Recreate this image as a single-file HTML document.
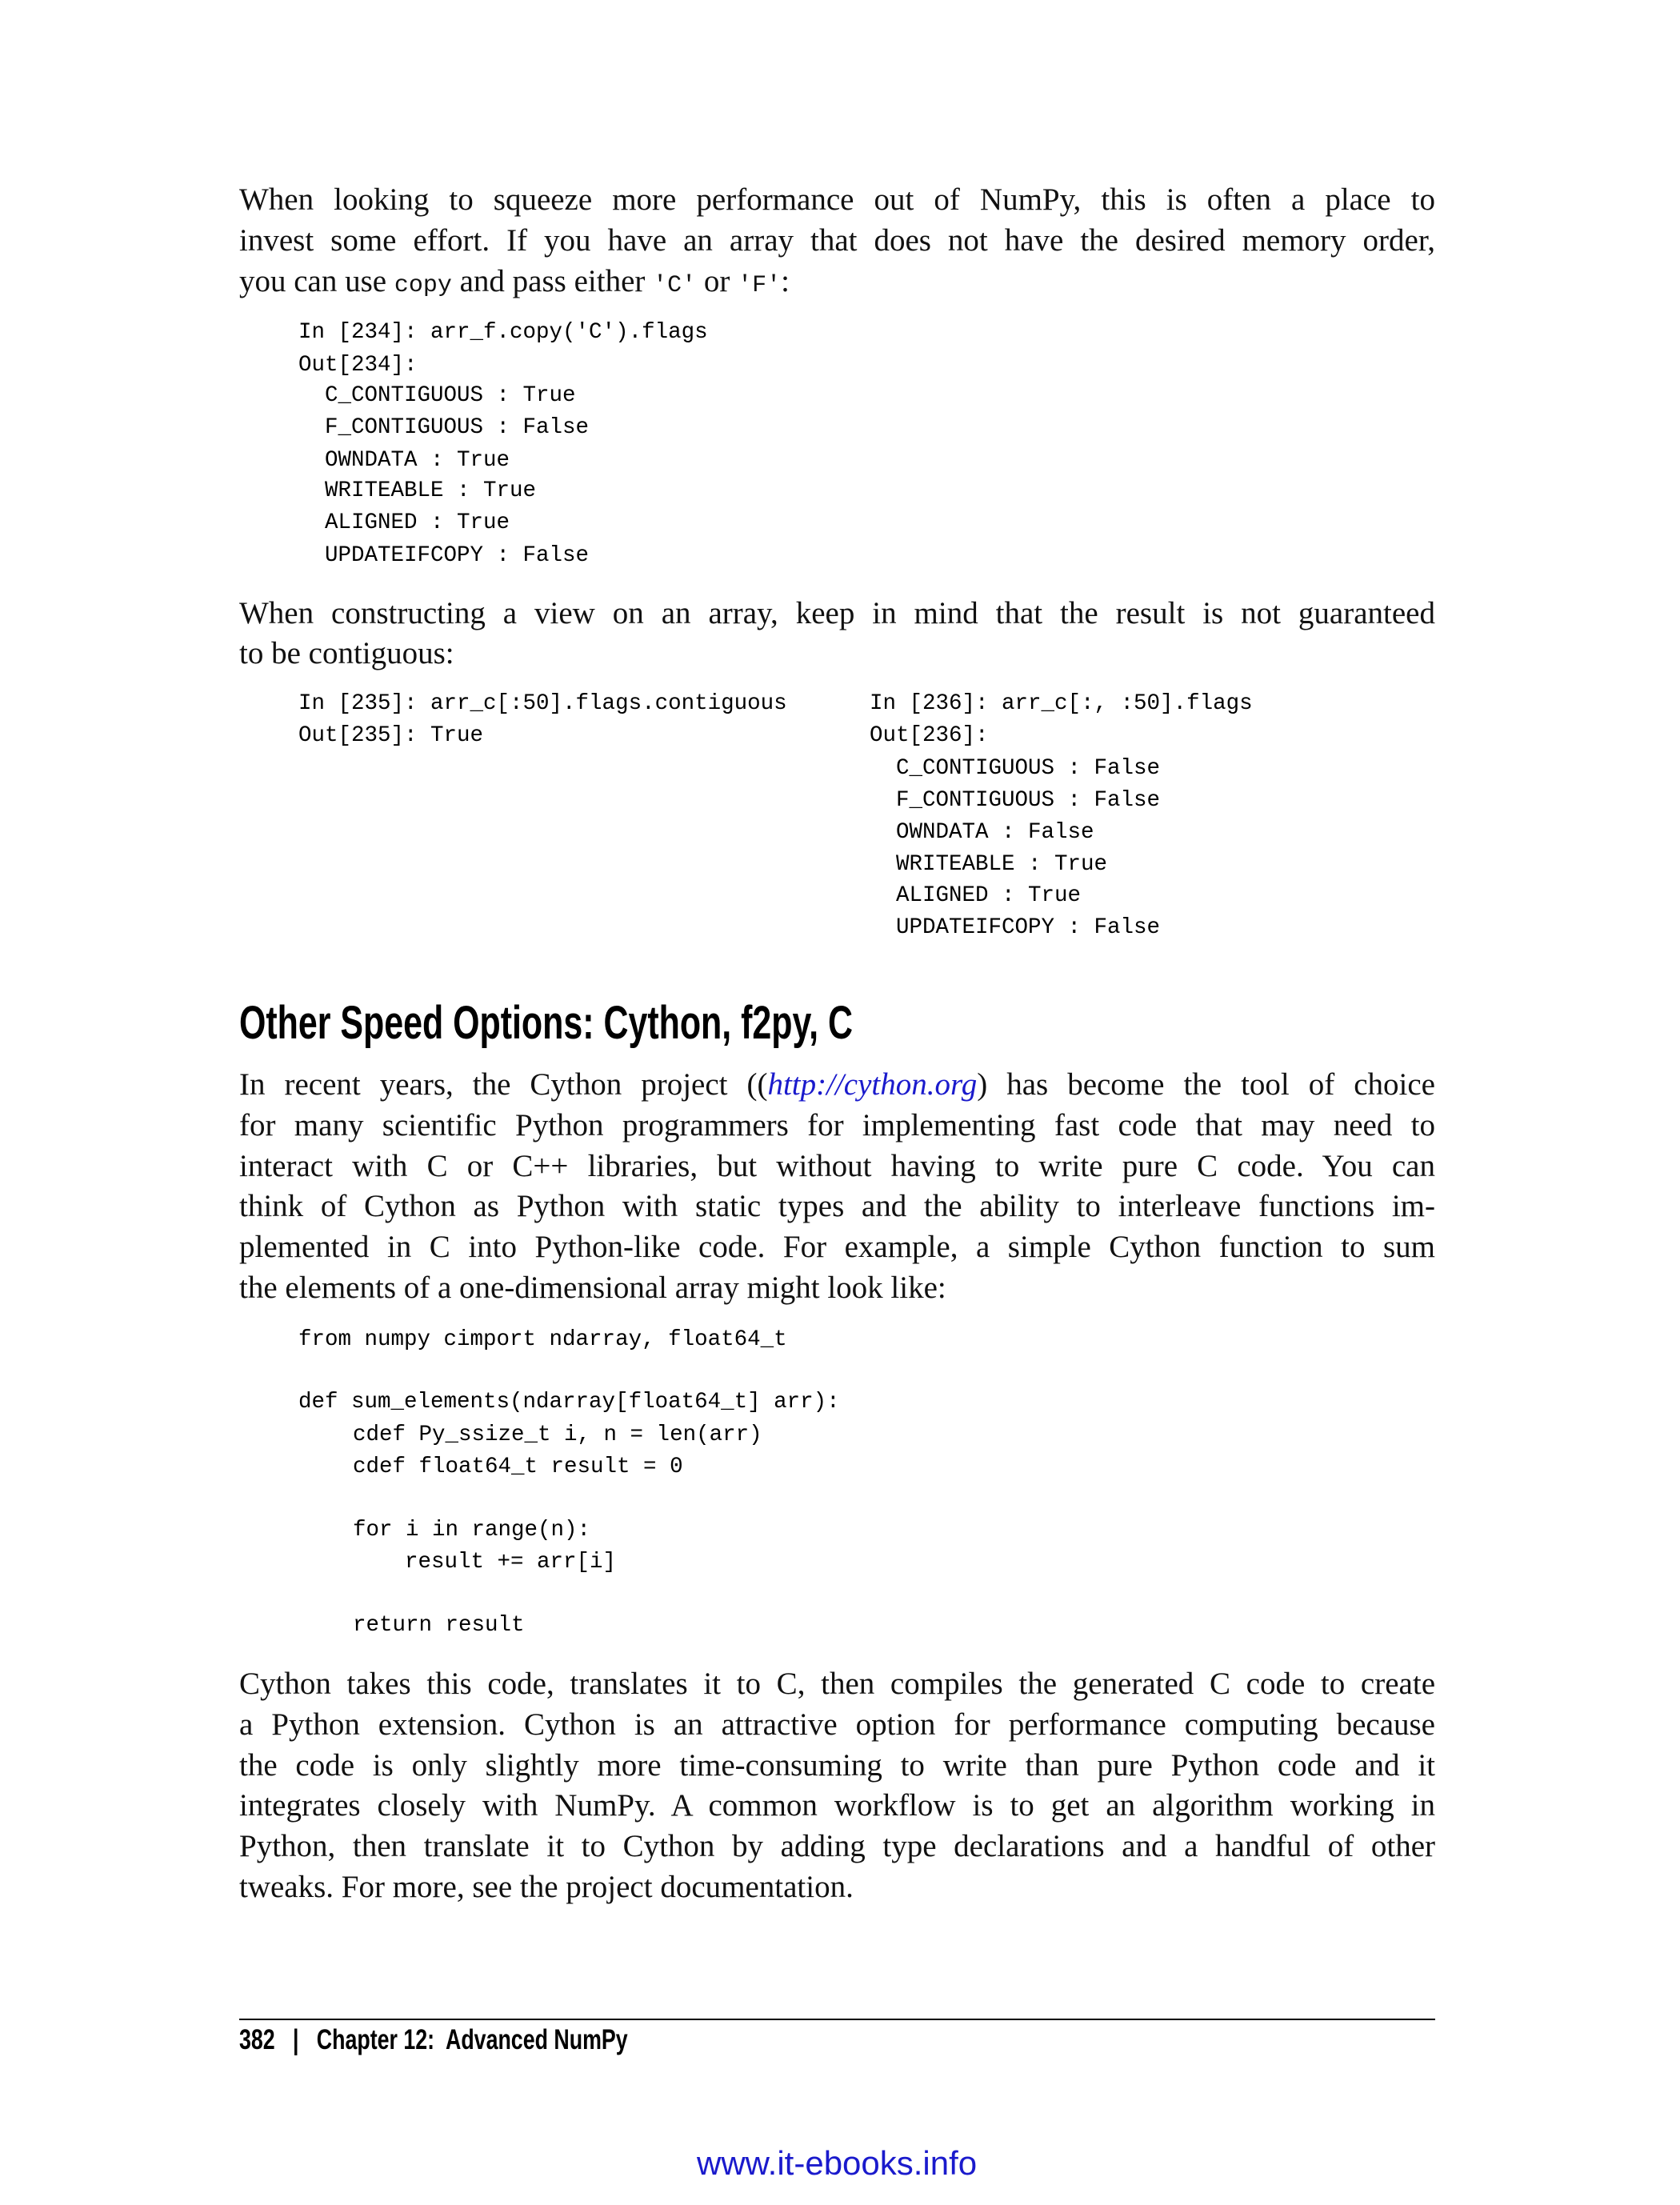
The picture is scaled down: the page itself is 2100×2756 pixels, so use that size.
<!DOCTYPE html>
<html><head><meta charset="utf-8"><style>
html,body{margin:0;padding:0;background:#fff;}
body{width:2100px;height:2756px;position:relative;overflow:hidden;}
.b{position:absolute;left:299px;width:1495px;height:50px;line-height:50px;font-family:"Liberation Serif",serif;font-size:39px;color:#111;white-space:nowrap;text-align:justify;text-align-last:justify;}
.l{text-align-last:left;}
.b code,.c{font-family:"Liberation Mono",monospace;}
.b code{font-size:30px;}
.c{position:absolute;height:40px;line-height:40px;font-size:27.5px;color:#000;white-space:pre;}
a{color:#1a1acc;font-style:italic;text-decoration:none;}
.h{position:absolute;left:299px;top:1245px;font-family:"Liberation Sans",sans-serif;font-weight:bold;font-size:58px;line-height:68px;transform:scaleX(0.74);transform-origin:left center;white-space:nowrap;color:#000;}
.f{position:absolute;left:299px;top:2530px;font-family:"Liberation Sans",sans-serif;font-weight:bold;font-size:35px;line-height:40px;transform:scaleX(0.765);transform-origin:left center;white-space:pre;color:#000;}
</style></head><body>
<div class="b" style="top:225px">When looking to squeeze more performance out of NumPy, this is often a place to</div>
<div class="b" style="top:276px">invest some effort. If you have an array that does not have the desired memory order,</div>
<div class="b l" style="top:327px">you can use <code>copy</code> and pass either <code>'C'</code> or <code>'F'</code>:</div>

<div class="c" style="left:373px;top:396px">In [234]: arr_f.copy('C').flags</div>
<div class="c" style="left:373px;top:437px">Out[234]:</div>
<div class="c" style="left:406px;top:475px">C_CONTIGUOUS : True</div>
<div class="c" style="left:406px;top:515px">F_CONTIGUOUS : False</div>
<div class="c" style="left:406px;top:556px">OWNDATA : True</div>
<div class="c" style="left:406px;top:594px">WRITEABLE : True</div>
<div class="c" style="left:406px;top:634px">ALIGNED : True</div>
<div class="c" style="left:406px;top:675px">UPDATEIFCOPY : False</div>

<div class="b" style="top:742px">When constructing a view on an array, keep in mind that the result is not guaranteed</div>
<div class="b l" style="top:792px">to be contiguous:</div>

<div class="c" style="left:373px;top:860px">In [235]: arr_c[:50].flags.contiguous</div>
<div class="c" style="left:373px;top:900px">Out[235]: True</div>
<div class="c" style="left:1087px;top:860px">In [236]: arr_c[:, :50].flags</div>
<div class="c" style="left:1087px;top:900px">Out[236]:</div>
<div class="c" style="left:1120px;top:941px">C_CONTIGUOUS : False</div>
<div class="c" style="left:1120px;top:981px">F_CONTIGUOUS : False</div>
<div class="c" style="left:1120px;top:1021px">OWNDATA : False</div>
<div class="c" style="left:1120px;top:1061px">WRITEABLE : True</div>
<div class="c" style="left:1120px;top:1100px">ALIGNED : True</div>
<div class="c" style="left:1120px;top:1140px">UPDATEIFCOPY : False</div>

<div class="h">Other Speed Options: Cython, f2py, C</div>

<div class="b" style="top:1331px">In recent years, the Cython project ((<a>http://cython.org</a>) has become the tool of choice</div>
<div class="b" style="top:1382px">for many scientific Python programmers for implementing fast code that may need to</div>
<div class="b" style="top:1433px">interact with C or C++ libraries, but without having to write pure C code. You can</div>
<div class="b" style="top:1483px">think of Cython as Python with static types and the ability to interleave functions im-</div>
<div class="b" style="top:1534px">plemented in C into Python-like code. For example, a simple Cython function to sum</div>
<div class="b l" style="top:1585px">the elements of a one-dimensional array might look like:</div>

<div class="c" style="left:373px;top:1655px">from numpy cimport ndarray, float64_t</div>
<div class="c" style="left:373px;top:1733px">def sum_elements(ndarray[float64_t] arr):</div>
<div class="c" style="left:441px;top:1774px">cdef Py_ssize_t i, n = len(arr)</div>
<div class="c" style="left:441px;top:1814px">cdef float64_t result = 0</div>
<div class="c" style="left:441px;top:1893px">for i in range(n):</div>
<div class="c" style="left:506px;top:1933px">result += arr[i]</div>
<div class="c" style="left:441px;top:2012px">return result</div>

<div class="b" style="top:2080px">Cython takes this code, translates it to C, then compiles the generated C code to create</div>
<div class="b" style="top:2131px">a Python extension. Cython is an attractive option for performance computing because</div>
<div class="b" style="top:2182px">the code is only slightly more time-consuming to write than pure Python code and it</div>
<div class="b" style="top:2232px">integrates closely with NumPy. A common workflow is to get an algorithm working in</div>
<div class="b" style="top:2283px">Python, then translate it to Cython by adding type declarations and a handful of other</div>
<div class="b l" style="top:2334px">tweaks. For more, see the project documentation.</div>

<div style="position:absolute;left:299px;top:2523px;width:1495px;height:2px;background:#000"></div>
<div class="f">382   |   Chapter 12:  Advanced NumPy</div>
<div style="position:absolute;left:871px;top:2680px;font-family:'Liberation Sans',sans-serif;font-size:42px;line-height:48px;color:#1a1acc;white-space:nowrap">www.it-ebooks.info</div>
</body></html>
